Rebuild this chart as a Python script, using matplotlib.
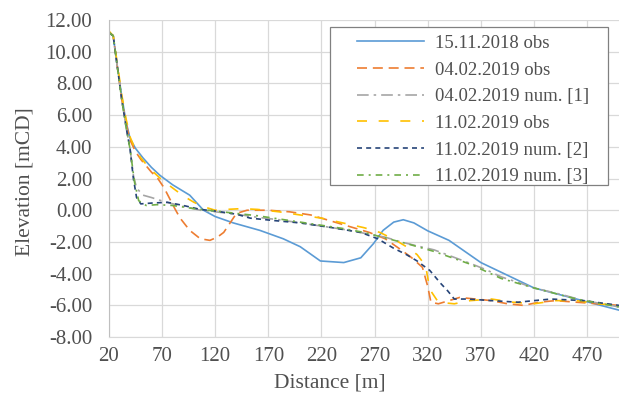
import matplotlib
matplotlib.use("Agg")
import matplotlib.pyplot as plt
from matplotlib.ticker import FormatStrFormatter
from matplotlib.patches import Rectangle

# ---- data ----
d_obs1811 = [20, 24, 28, 32, 36, 40, 45, 52, 60, 68, 80, 96, 109, 120, 137, 162, 184, 200, 219, 241, 257, 269, 278, 288, 297, 307, 320, 340, 370, 420, 460, 500]
e_obs1811 = [11.2, 11.0, 9.0, 7.2, 5.6, 4.5, 3.9, 3.3, 2.7, 2.2, 1.6, 0.95, 0.0, -0.4, -0.8, -1.27, -1.8, -2.3, -3.2, -3.3, -3.0, -2.1, -1.27, -0.75, -0.6, -0.8, -1.3, -1.9, -3.3, -4.9, -5.6, -6.3]

d_obs0402 = [20, 24, 28, 32, 36, 40, 45, 50, 55, 60, 66, 72, 77, 82, 87, 96, 106, 115, 122, 128, 134, 140, 150, 170, 190, 210, 230, 250, 265, 280, 295, 305, 315, 320, 323, 330, 340, 350, 365, 380, 395, 410, 425, 440, 460, 480, 500]
e_obs0402 = [11.2, 11.0, 9.0, 7.0, 5.5, 4.4, 3.7, 3.2, 2.8, 2.4, 2.0, 1.4, 0.75, 0.1, -0.5, -1.27, -1.8, -1.9, -1.7, -1.4, -0.8, -0.2, 0.0, 0.0, -0.1, -0.3, -0.7, -1.1, -1.4, -1.8, -2.5, -3.0, -3.6, -4.8, -5.8, -5.9, -5.7, -5.5, -5.6, -5.7, -5.9, -6.0, -5.8, -5.7, -5.8, -5.9, -6.0]

d_num1 = [20, 24, 28, 32, 36, 40, 43, 46, 52, 60, 74, 90, 106, 120, 140, 160, 180, 200, 220, 240, 260, 280, 295, 310, 326, 340, 358, 375, 389, 405, 420, 445, 467, 485, 500]
e_num1 = [11.2, 11.0, 9.0, 7.0, 5.3, 3.8, 2.2, 1.4, 0.95, 0.8, 0.5, 0.25, 0.0, -0.1, -0.25, -0.45, -0.6, -0.8, -1.0, -1.2, -1.45, -1.7, -2.0, -2.25, -2.5, -2.85, -3.3, -3.75, -4.2, -4.55, -4.9, -5.3, -5.7, -5.9, -6.1]

d_obs1102 = [20, 24, 28, 32, 36, 40, 45, 50, 55, 62, 70, 80, 90, 100, 110, 120, 130, 145, 160, 180, 200, 220, 240, 260, 275, 290, 300, 310, 318, 322, 330, 345, 360, 380, 400, 420, 440, 460, 480, 500]
e_obs1102 = [11.3, 11.0, 9.2, 7.3, 5.8, 4.6, 3.8, 3.3, 2.9, 2.4, 1.9, 1.4, 0.9, 0.5, 0.2, 0.0, 0.05, 0.1, 0.05, -0.1, -0.3, -0.5, -0.8, -1.1, -1.4, -1.9, -2.3, -2.8, -3.5, -5.0, -5.8, -5.9, -5.7, -5.6, -5.8, -5.9, -5.7, -5.7, -5.9, -6.0]

d_num2 = [20, 24, 28, 32, 36, 40, 43, 46, 50, 60, 75, 90, 106, 120, 140, 153, 175, 200, 230, 257, 273, 288, 300, 310, 322, 332, 339, 345, 358, 380, 405, 420, 436, 467, 500]
e_num2 = [11.2, 11.0, 9.0, 7.0, 5.3, 3.8, 2.0, 0.8, 0.4, 0.45, 0.5, 0.3, 0.05, -0.05, -0.25, -0.5, -0.65, -0.8, -1.1, -1.4, -1.8, -2.4, -2.8, -3.2, -3.8, -4.6, -5.1, -5.6, -5.6, -5.7, -5.8, -5.7, -5.6, -5.7, -6.0]

d_num3 = [20, 24, 28, 32, 36, 40, 44, 48, 55, 65, 80, 100, 120, 140, 160, 180, 200, 220, 240, 260, 280, 300, 326, 360, 389, 420, 460, 500]
e_num3 = [11.2, 11.0, 9.0, 7.0, 5.3, 3.8, 1.8, 0.6, 0.3, 0.35, 0.3, 0.1, -0.05, -0.2, -0.35, -0.55, -0.75, -0.95, -1.15, -1.4, -1.75, -2.1, -2.6, -3.4, -4.3, -4.9, -5.6, -6.1]

series_labels = ["15.11.2018 obs", "04.02.2019 obs", "04.02.2019 num. [1]",
                 "11.02.2019 obs", "11.02.2019 num. [2]", "11.02.2019 num. [3]"]
x_ticks = [20, 70, 120, 170, 220, 270, 320, 370, 420, 470]
y_ticks = [-8, -6, -4, -2, 0, 2, 4, 6, 8, 10, 12]

plt.rcParams['font.family'] = ['Liberation Serif', 'DejaVu Serif']

fig = plt.figure(figsize=(6.19, 3.98), dpi=100)
ax = fig.add_axes([0.176, 0.153, 0.824, 0.797])

grid_c = '#D9D9D9'
txt_c = '#505050'
lw = 1.2
ax.plot(d_obs1811, e_obs1811, color='#5B9BD5', lw=lw, label=series_labels[0])
ax.plot(d_obs0402, e_obs0402, color='#ED7D31', lw=lw, dashes=(6, 3.5), label=series_labels[1])
ax.plot(d_num1, e_num1, color='#A5A5A5', lw=lw, dashes=(7, 3, 1.5, 3), label=series_labels[2])
ax.plot(d_obs1102, e_obs1102, color='#FFC000', lw=lw, dashes=(6, 7), label=series_labels[3])
ax.plot(d_num2, e_num2, color='#264478', lw=lw, dashes=(3, 2.5), label=series_labels[4])
ax.plot(d_num3, e_num3, color='#70AD47', lw=lw, dashes=(4, 3, 1.2, 3), label=series_labels[5])

ax.set_xlim(20, 500)
ax.set_ylim(-8, 12)
ax.set_xticks(x_ticks)
ax.set_yticks(y_ticks)
ax.yaxis.set_major_formatter(FormatStrFormatter('%.2f'))
ax.grid(True, color=grid_c, lw=0.9)
ax.set_axisbelow(True)
for s in ['top', 'right']:
    ax.spines[s].set_visible(False)
ax.spines['left'].set_color('#BFBFBF')
ax.spines['bottom'].set_color(grid_c)
ax.tick_params(length=0, labelsize=15, colors=txt_c)
ax.tick_params(axis='y', pad=12)
ax.tick_params(axis='x', pad=7)

fig.text(330 / 619, 1 - 383 / 398, 'Distance [m]', fontsize=15.5, color=txt_c,
         ha='center', va='center')
fig.text(25 / 619, 1 - 182 / 398, 'Elevation [mCD]', fontsize=15.5, color=txt_c,
         ha='center', va='center', rotation=90)

# legend frame drawn in axes coordinates
ax.add_patch(Rectangle((0.4333, 0.4795), 0.978 - 0.4333, 0.978 - 0.4795,
                       transform=ax.transAxes, facecolor='white',
                       edgecolor='#808080', lw=0.9, zorder=4))
leg = ax.legend(loc='upper left', bbox_to_anchor=(0.486, 0.953), fontsize=13.5,
                handlelength=3.6, handletextpad=0.55, labelspacing=0.51,
                frameon=False, borderpad=0, borderaxespad=0)
leg.set_zorder(5)
for t in leg.get_texts():
    t.set_color(txt_c)

fig.savefig('out.png', dpi=100)
